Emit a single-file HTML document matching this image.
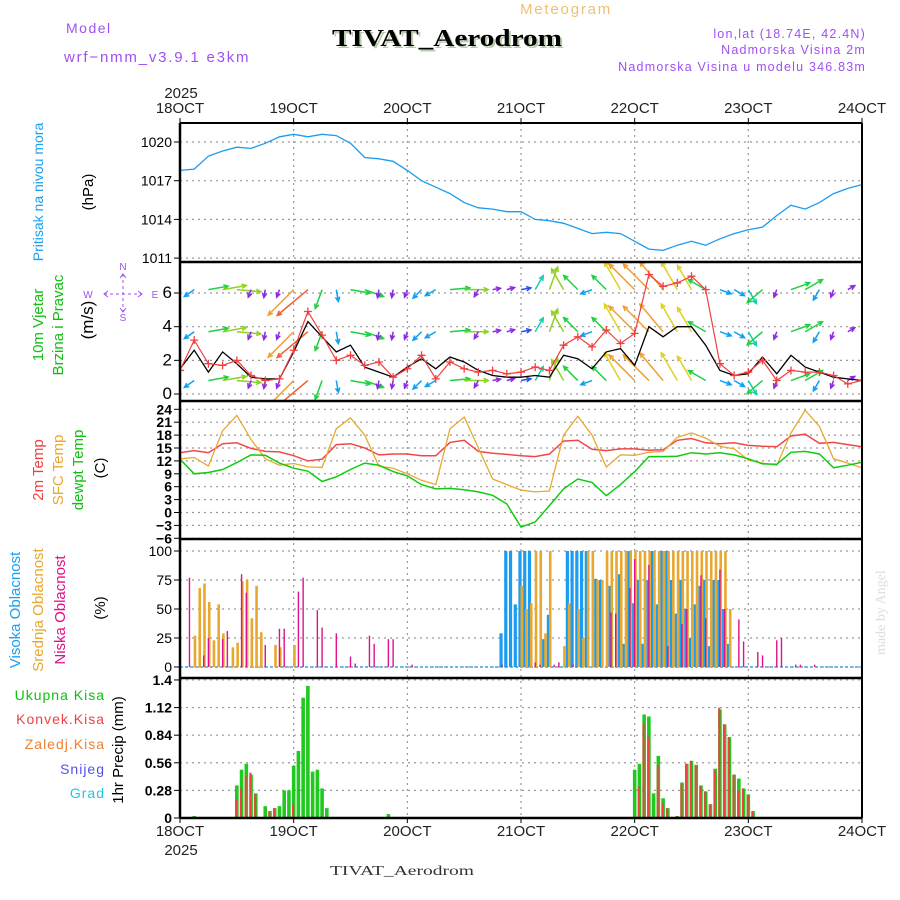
<!DOCTYPE html>
<html><head><meta charset="utf-8">
<style>
html,body{margin:0;padding:0;background:#fff;}
svg{display:block;}
text{font-family:"Liberation Sans",sans-serif;}
</style></head>
<body>
<svg id="chart" width="900" height="900" viewBox="0 0 900 900" xmlns="http://www.w3.org/2000/svg">
  <text x="66" y="33" fill="#a050f0" font-size="14" letter-spacing="1.5">Model</text>
  <text x="64" y="62" fill="#a050f0" font-size="15" letter-spacing="1.8">wrf−nmm_v3.9.1 e3km</text>
  <text x="520" y="14" fill="#f0c070" font-size="15" letter-spacing="1.8">Meteogram</text>
  <text x="332" y="46" fill="#b8ccb0" font-size="24" font-weight="bold" textLength="230" lengthAdjust="spacingAndGlyphs" style="font-family:'Liberation Serif',serif" transform="translate(2,2)">TIVAT_Aerodrom</text>
  <text x="332" y="46" fill="#000" font-size="24" font-weight="bold" textLength="230" lengthAdjust="spacingAndGlyphs" style="font-family:'Liberation Serif',serif">TIVAT_Aerodrom</text>
  <text x="866" y="38" fill="#a050f0" font-size="12.5" letter-spacing="1.2" text-anchor="end">lon,lat (18.74E, 42.4N)</text>
  <text x="866" y="54" fill="#a050f0" font-size="12.5" letter-spacing="1.2" text-anchor="end">Nadmorska Visina 2m</text>
  <text x="866" y="71" fill="#a050f0" font-size="12.5" letter-spacing="1.2" text-anchor="end">Nadmorska Visina u modelu 346.83m</text>
  <text x="181" y="98" fill="#222" font-size="15" text-anchor="middle">2025</text>
  <text x="181" y="855" fill="#222" font-size="15" text-anchor="middle">2025</text>
  <text x="330" y="875" fill="#333" font-size="13.5" textLength="144" lengthAdjust="spacingAndGlyphs" style="font-family:'Liberation Serif',serif">TIVAT_Aerodrom</text>
  <text transform="translate(885,655) rotate(-90)" fill="#d8e0d8" font-size="14" style="font-family:'Liberation Serif',serif">made by Angel</text>

  <text transform="translate(43,192) rotate(-90)" fill="#1aa0f0" font-size="14" text-anchor="middle">Pritisak na nivou mora</text>
  <text transform="translate(93,192) rotate(-90)" fill="#000" font-size="15" text-anchor="middle">(hPa)</text>
  <text transform="translate(43,325) rotate(-90)" fill="#10c010" font-size="15" text-anchor="middle">10m Vjetar</text>
  <text transform="translate(63,325) rotate(-90)" fill="#10c010" font-size="15" text-anchor="middle">Brzina i Pravac</text>
  <text transform="translate(93,320) rotate(-90)" fill="#000" font-size="17" text-anchor="middle">(m/s)</text>
  <g>
    <text x="123" y="270" fill="#a050f0" font-size="10" text-anchor="middle">N</text>
    <text x="88" y="298" fill="#a050f0" font-size="10" text-anchor="middle">W</text>
    <text x="155" y="298" fill="#a050f0" font-size="10" text-anchor="middle">E</text>
    <text x="123" y="321" fill="#a050f0" font-size="10" text-anchor="middle">S</text>
    <line x1="104" y1="294" x2="142" y2="294" stroke="#a050f0" stroke-dasharray="3,3"/>
    <line x1="123" y1="274" x2="123" y2="312" stroke="#a050f0" stroke-dasharray="3,3"/>
    <polyline points="108,291 104,294 108,297" fill="none" stroke="#a050f0"/>
    <polyline points="138,291 142,294 138,297" fill="none" stroke="#a050f0"/>
    <polyline points="120,278 123,274 126,278" fill="none" stroke="#a050f0"/>
    <polyline points="120,308 123,312 126,308" fill="none" stroke="#a050f0"/>
  </g>
  <text transform="translate(43,470) rotate(-90)" fill="#f04040" font-size="15" text-anchor="middle">2m Temp</text>
  <text transform="translate(63,470) rotate(-90)" fill="#e8a830" font-size="15" text-anchor="middle">SFC Temp</text>
  <text transform="translate(83,470) rotate(-90)" fill="#10c010" font-size="15" text-anchor="middle">dewpt Temp</text>
  <text transform="translate(105,468) rotate(-90)" fill="#000" font-size="15" text-anchor="middle">(C)</text>
  <text transform="translate(20,610) rotate(-90)" fill="#1aa0f0" font-size="15" text-anchor="middle">Visoka Oblacnost</text>
  <text transform="translate(43,610) rotate(-90)" fill="#e8a830" font-size="15" text-anchor="middle">Srednja Oblacnost</text>
  <text transform="translate(65,610) rotate(-90)" fill="#e0108a" font-size="15" text-anchor="middle">Niska Oblacnost</text>
  <text transform="translate(105,608) rotate(-90)" fill="#000" font-size="15" text-anchor="middle">(%)</text>
  <g font-size="14" text-anchor="end" letter-spacing="1">
    <text x="105" y="700" fill="#10c010">Ukupna Kisa</text>
    <text x="105" y="724" fill="#f04040">Konvek.Kisa</text>
    <text x="105" y="749" fill="#f08030">Zaledj.Kisa</text>
    <text x="105" y="774" fill="#5050f0">Snijeg</text>
    <text x="105" y="798" fill="#20c8d8">Grad</text>
  </g>
  <text transform="translate(123,750) rotate(-90)" fill="#000" font-size="15" text-anchor="middle">1hr Precip (mm)</text>
  <g id="plot"></g>
</svg>
<script>
// ---------- data (3-hourly, 18OCT 00 -> 24OCT 00) ----------
const dayLabels = ["18OCT","19OCT","20OCT","21OCT","22OCT","23OCT","24OCT"];
const pressure = [1017.8,1017.9,1018.9,1019.3,1019.6,1019.5,1019.9,1020.4,1020.6,1020.4,1020.6,1020.5,1019.9,1018.8,1018.7,1018.5,1017.8,1017.0,1016.5,1016.0,1015.3,1014.9,1014.8,1014.6,1014.6,1014.0,1013.9,1013.7,1013.3,1012.9,1013.0,1012.9,1012.3,1011.7,1011.6,1012.0,1012.3,1012.0,1012.5,1012.9,1013.2,1013.4,1014.3,1015.1,1014.8,1015.3,1016.0,1016.4,1016.7];
const pressureTicks = [1020,1017,1014,1011];
const windSpeed = [1.5,2.6,1.3,2.5,1.8,1.0,0.9,0.9,2.5,4.3,3.4,2.5,2.9,1.6,1.3,1.0,1.6,2.1,1.5,2.2,1.9,1.4,1.1,1.0,1.0,1.1,1.0,2.3,2.1,1.5,2.5,2.7,1.7,4.0,3.4,4.0,4.0,2.9,1.4,1.1,1.2,2.2,1.2,2.3,1.6,1.3,1.0,0.9,0.8];
const windGust = [1.4,3.2,1.8,1.7,2.0,1.1,0.8,0.9,2.6,4.9,3.5,2.0,2.3,1.7,1.9,1.0,1.5,2.3,0.9,1.9,1.5,1.3,1.4,1.2,1.3,1.6,1.4,2.9,3.4,2.8,3.8,3.0,3.6,7.1,6.4,6.6,7.0,6.2,1.8,1.1,1.3,2.0,0.8,1.4,1.3,1.3,1.1,0.6,0.8];
const windDir = [225,235,80,80,95,200,190,200,225,230,200,170,100,110,190,190,200,225,240,85,90,210,80,75,80,30,20,330,315,250,315,330,315,315,320,330,330,300,110,120,150,230,200,70,60,210,200,60,90];
const windArrowSpeed = [3,3,5,6,6,2,2,2,9,10,5,3,5,5,2,2,2,3,3,5,6,2,2,2,2.5,4,6,6,5,3,5,8,9,9,9,8,7,5,3,3,4,5,2,5,5,3,2,2,2];
const windRows = [6.2,3.7,0.8];
const windTicks = [0,2,4,6];
const temp2m = [13.9,14.4,13.9,16.0,16.2,14.9,14.2,14.1,13.2,12.0,12.4,15.8,16.0,15.0,13.4,13.6,13.6,13.2,13.2,16.3,16.8,14.2,13.8,13.5,13.2,13.0,13.6,16.6,16.8,14.7,14.4,14.8,14.8,14.5,14.6,16.8,17.2,16.2,16.0,16.2,15.6,15.4,15.3,17.8,18.2,16.1,16.3,15.8,15.3];
const tempSfc = [12.5,12.8,10.8,19.0,22.6,17.0,12.5,11.0,11.4,10.6,10.5,19.5,22.0,18.0,10.8,10.3,9.0,7.5,6.5,19.5,22.2,15.0,7.8,6.5,5.2,4.8,5.0,18.0,22.4,18.0,10.6,13.4,13.3,14.0,14.2,17.5,18.5,17.3,15.4,14.8,12.2,11.5,11.0,18.5,23.8,20.0,12.5,11.5,10.4];
const tempDew = [12.4,9.0,9.3,10.0,11.6,13.4,13.3,11.5,10.3,9.6,7.2,8.3,10.0,11.5,11.0,9.5,8.5,6.5,5.5,5.6,5.3,4.8,4.0,2.0,-3.4,-2.2,1.6,5.5,7.8,7.0,3.9,6.5,9.5,13.0,13.0,13.1,13.9,13.6,13.9,13.4,12.5,11.3,11.2,14.0,14.2,13.6,10.4,11.0,11.7];
const tempTicks = [24,21,18,15,12,9,6,3,0,-3,-6];
const cloudHighHours = [68,69,70,71,72,73,74,77,78,82,83,84,85,86,88,89,91,93,94,95,96,97,98,99,100,101,102,103,104,105,106,107,108,109,110,111,112,113,114,115,116];
const cloudHighVals  = [29,100,100,54,100,100,100,24,45,100,100,100,100,100,76,75,70,80,20,100,55,75,20,75,100,54,100,100,75,46,75,50,25,54,70,75,18,75,75,50,20];
const cloudMidHours = [3,4,5,6,7,8,9,11,12,13,14,15,16,17,20,21,24,72,73,74,75,76,77,78,81,82,84,85,86,87,88,89,90,91,92,93,94,95,96,97,98,99,100,101,102,103,104,105,106,107,108,109,110,111,112,113,114,115,116];
const cloudMidVals  = [27,68,72,56,23,54,29,17,21,74,75,42,70,30,19,17,19,70,50,55,100,100,29,100,18,55,50,25,100,100,75,75,100,100,100,100,100,100,100,100,100,100,100,100,100,100,100,100,100,100,100,100,100,100,100,100,100,100,50];
const cloudLowHours = [2,5,6,9,10,13,14,18,21,22,25,26,29,30,33,36,37,40,41,44,45,49,68,75,76,79,80,83,91,92,95,96,99,103,106,107,110,111,114,115,118,119,122,123,126,127,130,131,134];
const cloudLowVals  = [77,10,25,24,31,80,64,19,33,33,65,77,49,34,29,9,3,27,20,24,24,2,2,4,2,2,4,2,47,46,68,93,88,18,37,50,79,42,84,50,41,22,13,10,23,25,2,2,2];
const cloudTicks = [100,75,50,25,0];
const precipHours = [3,12,13,14,15,16,18,19,20,21,22,23,24,25,26,27,28,29,30,31,44,96,97,98,99,100,101,102,103,105,106,107,108,109,110,111,112,113,114,115,116,117,118,119,120,121];
const precipTotal = [0.02,0.33,0.49,0.55,0.44,0.25,0.12,0.07,0.10,0.12,0.28,0.28,0.53,0.68,1.22,1.34,0.47,0.49,0.30,0.10,0.04,0.49,0.55,1.05,1.03,0.25,0.63,0.20,0.10,0.02,0.36,0.55,0.58,0.54,0.33,0.27,0.14,0.50,1.10,0.95,0.82,0.44,0.40,0.30,0.24,0.07];
const precipConv  = [0,0.19,0.30,0.43,0.46,0.24,0,0.07,0.10,0,0,0,0.14,0,0,0,0,0,0,0,0,0,0.32,0.96,0.82,0,0.53,0.15,0.10,0.02,0.34,0.55,0.58,0.53,0.32,0.27,0.14,0.48,1.12,0.95,0.82,0.44,0.28,0.30,0.23,0.07];
const precipTicks = [1.4,1.12,0.84,0.56,0.28,0];
const precipTickLabels = ["1.4","1.12","0.84","0.56","0.28","0"];

// ---------- scales ----------
const X0=180, X1=862, HOURS=144;
const xH = h => X0 + h*(X1-X0)/HOURS;
const x3 = i => xH(i*3);
const yP = v => 142 + (1020-v)*12.9;
const yW = v => 394 - v*16.83;
const yT = v => 409.3 + (24-v)*4.3;
const yC = v => 667 - v*1.16;
const yR = v => 818 - v*98.6;
const panels = [[123,262],[262,401],[401,539],[539,678],[678,818]];

const NS="http://www.w3.org/2000/svg";
const plot=document.getElementById('plot');
function mk(tag, attrs, parent){const e=document.createElementNS(NS,tag);for(const k in attrs)e.setAttribute(k,attrs[k]);(parent||plot).appendChild(e);return e;}

const defs=mk('defs',{});
panels.forEach((p,i)=>{const c=mk('clipPath',{id:'clip'+i},defs);mk('rect',{x:X0,y:p[0],width:X1-X0,height:p[1]-p[0]},c);});

for(let d=1; d<6; d++){
  const gl=mk('line',{x1:xH(d*24),x2:xH(d*24),y1:123,y2:818,stroke:'#999','stroke-dasharray':'2,4','stroke-width':1.2});
  
  
}
dayLabels.forEach((lab,d)=>{
  const x=xH(d*24);
  const t=mk('text',{x:x,y:113,'font-size':15,fill:'#222','text-anchor':'middle'}); t.textContent=lab;
  
  
  const b=mk('text',{x:x,y:836,'font-size':15,fill:'#222','text-anchor':'middle'}); b.textContent=lab;
  
  
  mk('line',{x1:x,x2:x,y1:118,y2:123,stroke:'#000'});
  mk('line',{x1:x,x2:x,y1:818,y2:823,stroke:'#000'});
});

function yAxis(ticks, yf, labels, fs, bold, name){
  ticks.forEach((v,i)=>{
    const y=yf(v);
    const g=mk('line',{x1:X0,x2:X1,y1:y,y2:y,stroke:'#999','stroke-dasharray':'2,4','stroke-width':1.2});
    
    
    mk('line',{x1:X0-6,x2:X0,y1:y,y2:y,stroke:'#000'});
    const t=mk('text',{x:X0-8,y:y+5,'font-size':fs,'text-anchor':'end',fill:'#000','font-weight':bold?'bold':'normal'});
    t.textContent=labels?labels[i]:String(v);
    
    
  });
}
yAxis(pressureTicks,yP,null,14,false,'pressure');
yAxis(windTicks,yW,null,17,false,'wind');
yAxis(tempTicks,yT,tempTicks.map(v=>v<0?'−'+(-v):String(v)),14,true,'temp');
yAxis(cloudTicks,yC,null,14,false,'cloud');
yAxis(precipTicks,yR,precipTickLabels,14,true,'precip');

function line(vals,yf,color,name,clip,w){
  const pts=vals.map((v,i)=>x3(i).toFixed(1)+','+yf(v).toFixed(1)).join(' ');
  const pl=mk('polyline',{points:pts,fill:'none',stroke:color,'stroke-width':w||1.3,'clip-path':'url(#clip'+clip+')'});
  
  
}
line(pressure,yP,'#1a9cf0','pressure-line',0);

function spdColor(s){
  if(s<2.2) return '#8a2be2'; if(s<3) return '#3050f0'; if(s<4) return '#10a0f0';
  if(s<5) return '#10d0b0'; if(s<6) return '#20d040'; if(s<7) return '#90d020';
  if(s<8.5) return '#e0d020'; if(s<9.5) return '#f0a030'; return '#f06030';
}
const windG=mk('g',{'clip-path':'url(#clip1)'});
windRows.forEach((rv,ri)=>{
  windDir.forEach((dir,i)=>{
    const s=windArrowSpeed[i], L=s*4, a=dir*Math.PI/180;
    const x0=x3(i), y0=yW(rv), x1=x0+L*Math.sin(a), y1=y0-L*Math.cos(a);
    const c=spdColor(s);
    const g=mk('g',{stroke:c,'stroke-width':1.5,fill:'none'},windG);
    
    
    mk('line',{x1:x0,y1:y0,x2:x1,y2:y1},g);
    const h=5, b1=a+Math.PI-0.45, b2=a+Math.PI+0.45;
    mk('polyline',{points:`${x1+h*Math.sin(b1)},${y1-h*Math.cos(b1)} ${x1},${y1} ${x1+h*Math.sin(b2)},${y1-h*Math.cos(b2)}`},g);
  });
});
line(windSpeed,yW,'#000','wind-speed-line',1,1.3);
line(windGust,yW,'#f04040','wind-gust-line',1,1.2);
windGust.forEach((v,i)=>{
  const x=x3(i), y=yW(v);
  const p=mk('path',{d:`M${x-4},${y}H${x+4}M${x},${y-4}V${y+4}`,stroke:'#f04040','stroke-width':1.3,'clip-path':'url(#clip1)'});
  
  
});

line(temp2m,yT,'#f04848','temp-2m-line',2,1.5);
line(tempSfc,yT,'#e8a830','temp-sfc-line',2,1.3);
line(tempDew,yT,'#10cc10','dewpoint-line',2,1.5);

mk('line',{x1:X0,x2:X1,y1:yC(0),y2:yC(0),stroke:'#40a8e0','stroke-width':1.5,'stroke-dasharray':'3,2'});
function bars(hours,vals,yf,color,w,off,name,clip){
  hours.forEach((h,i)=>{
    const x=xH(h)+off, y=yf(vals[i]);
    const r=mk('rect',{x:x-w/2,y:y,width:w,height:yf(0)-y,fill:color,'clip-path':'url(#clip'+clip+')'});
    
    
  });
}
bars(cloudHighHours,cloudHighVals,yC,'#1a9cf0',3.2,-1,'cloud-high-bar',3);
bars(cloudMidHours,cloudMidVals,yC,'#e8a830',2.6,0.8,'cloud-mid-bar',3);
bars(cloudLowHours,cloudLowVals,yC,'#e0108a',1.4,0,'cloud-low-bar',3);

bars(precipHours,precipTotal,yR,'#20c820',3.6,0,'precip-total-bar',4);
bars(precipHours,precipConv,yR,'#f04040',2,-0.6,'precip-convective-bar',4);

panels.forEach((p,i)=>{
  mk('line',{x1:X0,x2:X1,y1:p[0],y2:p[0],stroke:'#000','stroke-width':i===0?2:2.5});
});
mk('line',{x1:X0,x2:X1,y1:818,y2:818,stroke:'#000','stroke-width':2.5});
mk('line',{x1:X0,x2:X0,y1:123,y2:818,stroke:'#000','stroke-width':2.5});
mk('line',{x1:X1,x2:X1,y1:123,y2:818,stroke:'#000','stroke-width':2});
</script>
</body></html>
